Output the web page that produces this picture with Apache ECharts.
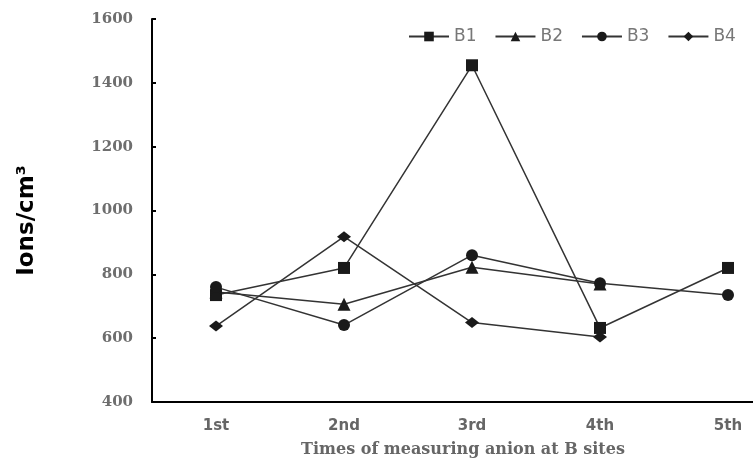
<!DOCTYPE html>
<html>
<head>
<meta charset="utf-8">
<script src="https://cdn.jsdelivr.net/npm/echarts@6/dist/echarts.min.js"></script>
<style>html,body{margin:0;padding:0;background:#fff}#c{width:753px;height:459px}</style>
</head>
<body>
<div id="c"></div>
<script>
var categories = ['1st', '2nd', '3rd', '4th', '5th'];
var yTicks = [400, 600, 800, 1000, 1200, 1400, 1600];
var B1 = [735, 820, 1455, 632, 820];
var B2 = [745, 706, 822, 770, null];
var B3 = [760, 641, 860, 772, 735];
var B4 = [638, 918, 649, 604, null];

var chart = echarts.init(document.getElementById('c'), null, {renderer: 'canvas'});
var lineColor = '#1a1a1a';
function mk(name, data, symbol, size) {
  return {
    name: name, type: 'line', data: data, symbol: symbol, symbolSize: size,
    showAllSymbol: true, clip: false,
    itemStyle: {color: lineColor},
    lineStyle: {color: '#333', width: 1.5},
    emphasis: {disabled: true}, animation: false
  };
}
chart.setOption({
  animation: false,
  backgroundColor: '#fff',
  grid: {left: 152, width: 640, top: 19, height: 383, outerBoundsMode: 'none', containLabel: false},
  legend: {
    left: 403, top: 23, itemWidth: 40, itemHeight: 12, itemGap: 18,
    textStyle: {fontFamily: 'DejaVu Sans', fontSize: 17, color: '#777'},
    data: ['B1', 'B2', 'B3', 'B4']
  },
  xAxis: {
    type: 'category', data: categories, boundaryGap: true,
    name: 'Times of measuring anion at B sites', nameLocation: 'middle', nameGap: 40,
    nameTextStyle: {fontFamily: 'DejaVu Serif', fontWeight: 'bold', fontSize: 16, color: '#666', padding: [0, 18, 0, 0]},
    axisLine: {lineStyle: {color: '#000', width: 2}},
    axisTick: {inside: true, alignWithLabel: true, length: 4, lineStyle: {color: '#000', width: 2}},
    axisLabel: {margin: 17, fontFamily: 'DejaVu Sans', fontWeight: 'bold', fontSize: 15, color: '#666'},
    splitLine: {show: false}
  },
  yAxis: {
    type: 'value', min: yTicks[0], max: yTicks[yTicks.length - 1], interval: 200,
    name: 'Ions/cm³', nameLocation: 'middle', nameGap: 113, nameRotate: 90,
    nameTextStyle: {fontFamily: 'DejaVu Sans', fontWeight: 'bold', fontSize: 23, color: '#000', padding: [0, 20, 0, 0]},
    axisLine: {show: true, lineStyle: {color: '#000', width: 2}},
    axisTick: {show: true, inside: true, length: 4, lineStyle: {color: '#000', width: 2}},
    axisLabel: {margin: 19, fontFamily: 'DejaVu Serif', fontWeight: 'bold', fontSize: 15, color: '#6e6e6e',
      formatter: function (v) { return String(v); }},
    splitLine: {show: false}
  },
  series: [
    mk('B1', B1, 'rect', 12),
    mk('B2', B2, 'triangle', 13),
    mk('B3', B3, 'circle', 12),
    mk('B4', B4, 'diamond', [14, 11])
  ]
});
</script>
</body>
</html>
